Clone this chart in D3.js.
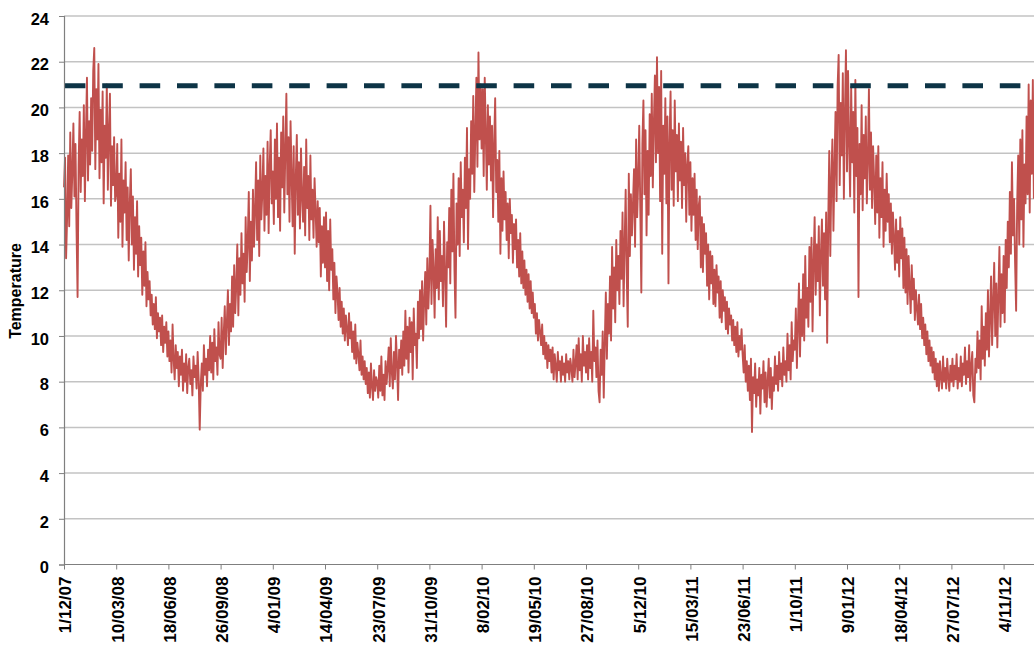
<!DOCTYPE html>
<html>
<head>
<meta charset="utf-8">
<script src="https://cdn.jsdelivr.net/npm/d3@7/dist/d3.min.js"></script>
<style>
  html, body { margin: 0; padding: 0; background: #ffffff; }
  svg { display: block; }
  text { font-family: "Liberation Sans", Arial, sans-serif; font-weight: bold; fill: #000; }
</style>
</head>
<body>
<svg id="chart" width="1034" height="646"></svg>
<script>
// ---------------- DATA ----------------
const startDate = "2007-12-01";   // first observation
const stepDays = 2;                // spacing of the values inside each block
const blockDays = 100;             // each block starts at a tick label

const tickLabels = ["1/12/07","10/03/08","18/06/08","26/09/08","4/01/09","14/04/09","23/07/09",
  "31/10/09","8/02/10","19/05/10","27/08/10","5/12/10","15/03/11","23/06/11","1/10/11",
  "9/01/12","18/04/12","27/07/12","4/11/12"];

const yTicks = [0,2,4,6,8,10,12,14,16,18,20,22,24];
const targetTemp = 21;

// Temperature readings, one block per 100 days starting at each tick label
const t_1_12_07 = [16.5,17.8,13.4,15.2,17.9,14.8,18.9,15.6,17.2,19.3,16.1,18.4,14.7,11.7,17.5,19.8,
  16.3,18.6,17.0,20.1,15.9,18.8,21.3,16.8,19.4,17.5,20.4,18.1,21.6,22.6,17.3,20.8,18.6,21.9,16.9,
  19.9,17.6,20.7,15.8,19.2,17.8,21.0,16.4,18.9,20.6,15.7,18.3,16.6,18.7,15.9];
const t_10_03_08 = [16.2,18.4,14.3,17.1,15.0,18.6,13.9,16.8,15.4,17.6,14.2,16.5,13.3,15.8,17.3,14.0,
  16.1,12.9,15.2,13.6,15.9,12.6,14.8,13.1,14.3,11.8,13.7,12.2,14.1,11.3,12.8,11.6,12.4,10.9,11.8,
  10.5,11.4,10.3,11.7,9.9,11.0,10.2,10.8,9.6,10.9,9.3,10.4,9.7,10.6,9.1];
const t_18_06_08 = [10.2,8.9,9.8,8.4,10.5,9.0,8.1,9.6,8.6,9.3,7.8,9.1,8.3,9.4,7.6,8.8,8.0,9.2,7.5,
  8.6,9.0,7.9,8.5,7.4,9.1,8.2,8.7,7.7,9.3,8.1,5.9,7.9,8.8,7.6,9.6,8.3,9.0,7.8,9.4,8.5,10.0,8.4,9.7,
  8.1,10.3,8.9,9.5,8.3,10.6,9.2];
const t_26_09_08 = [9.0,10.8,8.6,10.1,11.3,9.2,10.6,12.0,9.6,11.4,10.2,12.6,10.4,13.1,11.0,12.2,14.0,
  10.9,13.4,11.8,14.5,12.3,13.6,11.5,15.2,12.8,14.1,16.3,12.4,15.0,13.3,16.4,13.9,15.5,17.6,14.2,
  16.8,13.5,17.9,15.1,16.3,18.2,14.6,17.0,15.3,18.5,14.5,17.4,19.0,15.8];
const t_4_01_09 = [17.2,14.9,18.6,16.0,19.3,15.2,17.8,14.6,18.9,16.5,19.6,15.4,18.1,20.6,16.2,18.7,
  15.0,19.4,17.0,14.8,18.3,13.6,16.9,18.8,15.3,17.6,14.7,18.2,16.1,15.0,17.4,14.4,18.6,15.6,17.0,
  14.2,17.9,15.1,16.4,14.3,16.9,15.5,13.9,15.9,14.1,15.6,12.6,14.8,13.2,15.2];
const t_14_04_09 = [13.0,15.4,12.4,14.6,12.0,15.1,12.9,13.8,11.6,13.2,11.0,12.6,11.9,10.7,12.1,10.4,
  11.5,10.1,11.2,9.8,10.9,10.3,9.6,11.0,9.9,10.6,9.3,10.2,9.0,10.5,8.8,9.7,9.2,8.5,9.8,8.3,9.1,8.1,
  8.9,7.9,8.6,7.5,8.4,7.3,8.8,7.8,7.2,8.5,7.6,8.2];
const t_23_07_09 = [8.0,7.3,8.7,7.6,9.1,7.4,8.3,7.2,8.9,7.9,8.6,9.5,7.8,9.9,8.4,7.7,9.3,8.1,10.0,8.8,
  7.2,9.4,8.6,9.8,8.3,10.2,8.7,11.1,9.0,10.4,8.4,10.8,9.3,10.6,8.1,11.2,9.6,10.1,8.6,11.5,9.9,12.0,
  10.3,12.4,9.8,11.6,12.8,10.5,13.4,11.2];
const t_31_10_09 = [12.6,15.7,11.4,14.2,12.9,10.8,13.8,12.1,15.2,11.6,14.6,12.4,13.5,11.3,15.0,12.8,
  10.4,14.1,13.0,15.6,12.3,16.4,13.7,17.1,12.9,10.8,15.8,14.0,16.9,13.5,17.6,15.2,16.4,14.1,17.8,
  15.6,19.1,13.8,17.3,16.0,19.4,17.1,20.5,16.3,18.9,21.3,17.4,22.4,18.6,21.0];
const t_8_02_10 = [18.2,20.8,17.0,21.3,18.9,16.4,20.1,17.5,19.6,16.8,19.2,15.2,18.4,20.4,16.3,17.7,
  15.0,18.1,13.6,16.9,14.6,17.2,15.1,16.3,14.2,15.8,13.4,16.0,14.5,15.3,13.2,14.9,13.8,15.1,13.0,
  14.2,12.6,14.5,12.3,13.7,12.1,13.3,11.8,12.9,11.5,12.7,11.2,12.4,11.0,11.9];
const t_19_05_10 = [10.8,11.4,10.1,11.0,9.8,10.7,10.2,9.6,10.5,9.2,10.0,9.0,9.7,8.6,9.6,8.9,9.4,8.4,
  9.5,8.1,9.2,8.7,8.0,9.3,8.5,8.9,8.0,9.1,8.3,8.8,8.0,9.2,8.4,8.9,8.1,9.0,8.6,8.0,9.4,8.2,8.8,9.6,
  8.1,9.9,8.5,9.2,8.0,10.0,8.7,9.3];
const t_27_08_10 = [8.4,9.6,8.1,9.9,8.6,9.3,8.0,11.1,8.9,9.5,8.2,9.8,7.6,7.1,9.4,8.3,10.2,7.3,9.7,
  11.9,9.0,11.4,10.1,12.6,9.8,13.9,11.2,13.0,10.6,14.2,12.0,13.5,11.4,14.6,12.5,15.4,11.3,14.0,16.4,
  12.7,10.4,17.1,13.5,16.2,14.4,15.8,17.3,13.9,18.6,15.2];
const t_5_12_10 = [16.8,19.2,15.6,11.9,18.4,20.3,16.2,19.0,14.4,18.1,15.3,19.7,17.0,20.6,16.5,19.3,
  21.4,17.6,22.2,18.0,20.9,15.9,21.6,13.6,19.2,17.1,20.4,15.8,19.6,12.3,18.5,20.7,16.4,19.0,15.7,
  20.3,17.2,18.8,15.9,19.3,16.8,18.5,15.6,19.1,16.6,18.0,15.0,17.5,18.3,15.3];
const t_15_03_11 = [17.6,14.6,16.9,15.3,17.1,14.2,16.4,13.8,15.7,16.1,13.0,15.2,12.8,14.9,13.6,14.5,
  12.2,14.0,11.6,13.7,12.3,13.5,11.4,12.9,11.3,13.1,11.9,12.6,10.8,12.4,10.6,12.0,11.1,11.7,10.3,
  11.5,10.1,11.2,10.5,10.9,9.8,10.7,9.6,10.4,9.3,10.6,9.1,10.0,9.4,10.3];
const t_23_06_11 = [9.2,8.4,9.6,8.0,8.9,7.6,8.7,7.2,9.0,5.8,8.2,7.5,8.8,6.9,8.1,7.4,8.6,6.6,8.3,7.7,
  8.9,7.1,8.4,6.9,8.0,9.0,7.3,8.6,6.8,8.2,7.6,9.1,7.9,8.7,7.6,9.3,8.1,8.8,7.8,9.5,8.3,8.9,8.0,10.1,
  8.5,9.6,8.1,10.6,8.9,9.8];
const t_1_10_11 = [9.4,11.2,8.6,10.5,12.3,9.1,11.6,10.0,12.7,9.8,13.5,10.8,12.1,10.4,13.9,11.5,14.3,
  10.2,13.2,15.2,11.8,14.0,12.4,14.8,10.9,13.6,15.1,12.2,14.5,11.6,15.4,9.7,14.9,18.1,13.5,16.8,
  18.6,14.6,17.4,19.8,15.9,20.9,22.3,16.6,20.2,17.9,21.5,16.0,19.7,22.5];
const t_9_01_12 = [17.2,21.6,18.5,16.1,20.9,17.6,19.8,15.4,21.2,17.0,19.1,11.7,18.4,16.2,20.1,15.5,
  18.8,16.9,19.6,15.8,17.7,20.8,16.4,18.9,15.6,18.3,16.8,14.9,17.9,15.4,18.3,14.3,16.9,15.2,17.6,
  13.9,16.4,14.6,17.1,15.0,16.2,14.1,15.8,13.6,15.4,14.3,12.9,15.1,13.2,14.6];
const t_18_04_12 = [12.6,15.2,13.4,14.7,12.1,14.3,11.9,13.8,11.4,13.5,12.2,11.0,13.1,11.6,12.5,10.7,
  12.0,11.2,10.5,11.8,10.3,11.4,9.9,10.8,9.6,10.5,9.2,10.2,8.9,9.8,8.7,9.5,8.4,9.3,8.1,9.0,7.8,8.8,
  7.6,8.9,8.2,7.7,9.1,8.0,8.6,7.7,9.0,8.2,7.6,8.7];
const t_27_07_12 = [8.0,9.0,7.8,8.7,8.1,9.2,7.7,8.6,8.0,9.1,7.8,8.8,8.3,9.5,7.9,8.9,8.2,9.6,7.6,8.7,
  9.3,7.4,7.1,9.0,8.4,10.2,8.6,9.8,8.1,11.3,9.0,10.4,8.7,11.0,9.4,12.0,9.1,10.8,12.6,9.6,11.5,13.2,
  10.0,12.3,9.5,11.8,13.9,10.4,12.7,11.0];
const t_4_11_12 = [13.5,10.6,14.2,12.1,15.0,13.0,16.3,13.6,17.6,14.4,16.0,13.2,11.1,15.8,17.9,14.0,
  18.6,15.1,19.0,13.9,17.5,15.8,19.6,16.2,21.0,15.4,20.3,17.1,21.2,16.0];

const temperatureBlocks = [t_1_12_07,t_10_03_08,t_18_06_08,t_26_09_08,t_4_01_09,t_14_04_09,
  t_23_07_09,t_31_10_09,t_8_02_10,t_19_05_10,t_27_08_10,t_5_12_10,t_15_03_11,t_23_06_11,
  t_1_10_11,t_9_01_12,t_18_04_12,t_27_07_12,t_4_11_12];

// ---------------- BUILD ----------------
const DAY = 86400000;
const t0 = d3.utcParse("%Y-%m-%d")(startDate);
const series = [];
temperatureBlocks.forEach((blk, k) => {
  blk.forEach((v, i) => {
    series.push({date: new Date(t0.getTime() + (k * blockDays + i * stepDays) * DAY), value: v});
  });
});
const parseTick = d3.utcParse("%d/%m/%y");
const tickDates = tickLabels.map(parseTick);

const svg = d3.select("#chart");
const margin = {left: 64, top: 16, bottom: 564.5};
const plotRight = 1035;

const x = d3.scaleUtc()
  .domain([t0, new Date(t0.getTime() + 1860 * DAY)])
  .range([margin.left, margin.left + 1860 * 0.522]);
const y = d3.scaleLinear().domain([0, 24]).range([margin.bottom, margin.top]);

// grid lines
svg.append("g").selectAll("line").data(yTicks.filter(d => d > 0)).join("line")
  .attr("x1", margin.left).attr("x2", plotRight)
  .attr("y1", d => y(d)).attr("y2", d => y(d))
  .attr("stroke", "#c3c3c3").attr("stroke-width", 1.5);

// temperature line
const line = d3.line().x(d => x(d.date)).y(d => y(d.value));
svg.append("path").datum(series)
  .attr("d", line)
  .attr("fill", "none")
  .attr("stroke", "#c0504d")
  .attr("stroke-width", 1.9)
  .attr("stroke-linejoin", "round");

// target dashed line
svg.append("line")
  .attr("x1", x(t0) + 0.8).attr("x2", plotRight)
  .attr("y1", y(targetTemp) + 1.2).attr("y2", y(targetTemp) + 1.2)
  .attr("stroke", "#0d3446").attr("stroke-width", 5)
  .attr("stroke-dasharray", "20.6,16.8");

// y axis
const yAxis = d3.axisLeft(y).tickValues(yTicks).tickSize(5).tickPadding(10).tickFormat(d3.format("d"));
const gy = svg.append("g").attr("transform", `translate(${margin.left},0)`).call(yAxis);
gy.select(".domain").attr("stroke", "#7f7f7f").attr("stroke-width", 1.2);
gy.selectAll(".tick line").attr("stroke", "#7f7f7f");
gy.selectAll(".tick text").attr("font-size", 16.5).attr("dy", "0.5em")
  .style("font-family", "'Liberation Sans', Arial, sans-serif").style("font-weight", "bold");

// x axis
const xAxis = d3.axisBottom(x).tickValues(tickDates).tickSize(5)
  .tickFormat((d, i) => tickLabels[i]);
const gx = svg.append("g").attr("transform", `translate(0,${margin.bottom})`).call(xAxis);
gx.select(".domain").attr("stroke", "#7f7f7f").attr("stroke-width", 1.2)
  .attr("d", `M${margin.left},0H${plotRight}`);
gx.selectAll(".tick line").attr("stroke", "#7f7f7f");
gx.selectAll(".tick text")
  .attr("font-size", 17)
  .attr("text-anchor", "end")
  .attr("transform", "rotate(-90)")
  .attr("x", -12).attr("y", 0).attr("dy", "0.4em")
  .style("font-family", "'Liberation Sans', Arial, sans-serif").style("font-weight", "bold");

// y axis title
svg.append("text")
  .attr("transform", `translate(21,${291}) rotate(-90)`)
  .attr("text-anchor", "middle")
  .attr("font-size", 16)
  .text("Temperature");
</script>
</body>
</html>
